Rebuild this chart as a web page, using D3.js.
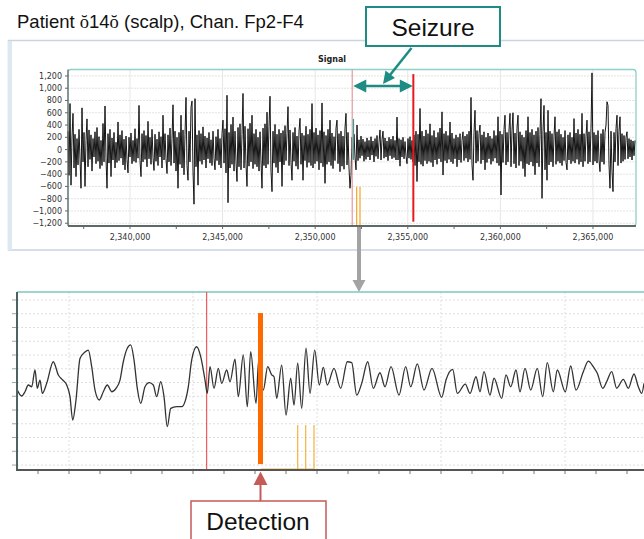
<!DOCTYPE html>
<html><head><meta charset="utf-8">
<script src="https://cdn.jsdelivr.net/npm/d3@7"></script>
<style>html,body{margin:0;padding:0;background:#fff;}svg{display:block;}</style>
</head><body>
<svg id="c" width="644" height="539"></svg>
<script>
// ---- Overview trace (Fp2-F4), one value per sample step ----
const traceStart = 2336652;
const traceStep = 54;
const traceValues = [
 300,-420,750,-580,200,590,-300,250,-440,180,-250,330,-150,-630,680,-200,280,-600,150,500,
 -280,320,-160,240,-350,180,-120,290,-230,360,-190,210,-310,150,-260,425,-200,710,-150,-630,
 260,-220,330,-440,190,-170,280,-300,120,-210,450,-180,240,-140,310,-250,170,-330,220,-160,
 -380,200,-120,270,-230,150,-190,340,-210,180,-140,720,-180,-440,260,-200,310,-160,230,-280,
 460,-150,200,-240,330,-130,-340,250,-190,170,-260,290,-120,210,-300,560,-170,260,-150,-390,
 240,-200,350,-260,180,730,-220,300,-350,200,-630,280,-240,560,-300,320,-410,250,850,-260,
 -500,300,-200,690,790,-350,-890,830,-280,240,-580,310,-190,260,-240,370,-170,220,-300,190,
 -150,280,-220,160,-260,300,-140,-330,210,-180,330,-250,180,-300,260,480,-220,340,-380,885,
 -865,280,-300,410,-240,530,-350,300,-200,-520,360,-280,420,-330,250,915,-300,380,-250,-600,
 340,-270,430,-200,560,-310,260,-240,330,-280,200,-350,290,-200,-630,350,-260,420,-300,610,
 -240,380,870,-350,-685,300,-220,410,-290,250,-380,330,-200,270,-600,310,-250,390,-180,260,
 700,-260,320,-210,-500,280,-190,360,-270,220,-320,300,510,-240,270,-500,230,-180,380,-290,
 250,-210,330,-260,750,-300,280,-230,350,-190,240,-330,310,-220,760,-280,290,-550,230,-240,
 330,-200,480,-260,270,-310,210,-180,350,480,-230,260,-360,300,-270,220,-320,350,590,-250,
 280,-300,-630,-420,200,-150,250,-120,-330,400,-180,160,-140,220,-100,170,-190,130,-160,190,
 -120,150,-170,210,-90,140,-200,180,-110,230,-150,120,320,-170,160,300,-140,190,-120,140,
 -180,200,-100,170,-150,220,-130,150,-170,530,-170,180,-270,160,-120,200,-150,130,-110,-230,
 180,-140,210,-160,150,-200,240,-260,300,-520,250,-200,670,-240,300,-270,220,-180,320,-230,
 260,-190,420,-210,230,-280,310,-170,200,-240,280,-150,350,-200,615,-415,260,-180,300,-220,
 230,-160,450,-200,270,-230,180,-150,240,-280,200,-170,260,-210,150,290,-180,220,-140,250,
 -200,300,-160,850,-250,-500,280,640,-220,310,-190,260,400,-230,240,-170,290,-330,200,-210,
 270,-150,220,-240,180,-190,310,-140,230,-220,535,-260,300,-740,250,-210,330,560,-250,280,
 -200,320,590,-280,310,600,-230,270,-300,350,560,-260,290,-190,240,-310,200,-440,310,-230,
 535,-250,280,-200,330,-270,240,-410,300,-220,360,-280,250,830,-795,300,720,-330,280,-500,
 640,-250,300,-200,260,-280,220,535,-240,290,-190,330,-220,250,-260,200,-180,310,-210,-330,
 240,-170,280,-230,200,-190,505,-220,270,-160,330,-240,250,-200,590,-280,260,-190,220,480,
 -230,290,-200,350,1250,-250,280,-190,240,-220,310,-170,-360,260,-200,330,-240,280,400,780,
 720,-250,-630,300,-350,-685,280,-200,340,560,-260,300,535,-220,260,-190,230,-160,200,290,
 -150,180,-120,160,-170,140,-100,150
];
// short highlighted stretch at onset
const highlight = { t: 2352060, from: 500, to: -170 };

// overview axes
const overviewXTicks = [2340000, 2345000, 2350000, 2355000, 2360000, 2365000];
const overviewXMinor = [2337500, 2340000, 2342500, 2345000, 2347500, 2350000, 2352500, 2355000, 2357500, 2360000, 2362500, 2365000];
const overviewYTicks = [-1200, -1000, -800, -600, -400, -200, 0, 200, 400, 600, 800, 1000, 1200];

// annotated events
const seizureStart = 2352000;
const seizureEnd = 2355300;
const overviewAlarms = [2352240, 2352420];
const zoomAnchor = 2352365;

// ---- Zoomed trace (sample offset, grid units) ----
const zoomT = [0.3,4.7,8,11.3,14.7,18,20.3,23,25.3,29.7,36.3,41.3,45.7,49.7,53,55.7,59,63,68,71.3,
 74.7,78,82.3,86.3,90.3,94.7,99,103,106.3,110.3,113.7,117,120.3,123.7,128,132.3,136.3,139.7,143.7,147,
 150.3,153.7,159.7,164.7,168,171.3,174.7,179.7,183.7,188,190.3,193,197,201.3,
 204.7,209.7,213,218,221.3,226.3,230.3,233.7,239,241.7,246.3,250.7,254.7,257,259.7,264.7,269,273.7,277,280.7,
 284.7,289,293,297.7,302.3,306.3,310.3,317,323.7,330.3,334.7,339.7,344.7,350.7,356.3,363,368,374,382,388.7,
 393.7,400.3,407,415,424.7,429,435.7,440.3,448.3,453,459,463,467,473,477,484.7,489,493.7,499,503,
 508,513.7,520.3,525.7,530.3,536.3,540.3,548.3,553.7,559,566.3,571.3,576.3,580.3,585.7,589.7,594.7,599.7,606.3,611.3,
 617,621.3,624.7,627];
const zoomV = [-0.55,-0.98,-0.67,-0.18,-0.31,0.91,-0.42,0.18,-0.79,-0.06,1.51,0.55,0.18,-0.18,-1.03,-2.73,-1.27,1.75,2.22,2.36,
 1.15,-0.55,-1.27,-0.67,-0.18,-0.67,-0.42,0.18,1.51,2.49,2.73,1.64,-0.42,-1.51,-0.31,-0.01,-0.18,-1.03,0.06,-1.03,
 -3.21,-1.88,-1.76,-1.76,-1.39,-0.31,1.64,2.6,1.88,0.18,-0.79,1.15,-0.42,1.03,
 -0.06,0.91,0.06,1.69,-1.03,2.0,-1.76,2.24,-1.51,1.64,-0.55,1.15,0.55,0.42,-1.15,1.27,-2.36,0.31,-1.64,1.4,
 -1.88,2.49,-0.79,2.36,-0.18,1.1,-0.18,1.03,-0.42,1.51,1.44,-0.91,-0.06,1.51,-0.42,0.71,-0.31,1.15,-0.91,1.15,
 -0.31,1.35,-0.55,1.03,-1.08,0.18,0.96,-0.79,-0.11,-0.79,0.42,-0.67,0.79,-0.91,0.31,-1.15,0.55,-0.31,0.91,-0.67,
 1.03,-0.55,1.03,-1.03,1.44,-0.67,0.91,-0.67,1.2,-0.55,0.79,1.56,1.15,0.67,-0.42,0.06,0.79,-0.42,0.23,-0.42,
 0.62,-0.31,-0.79,-0.06];
const zoomOnset = 189.7;
const detection = { t: 243.5, top: 5.05, bottom: -5.93 };
const zoomAlarms = [280.7, 288.7, 297];
const alarmBase = -6.29, alarmTop = -3.09;
const zoomTickStep = 31, zoomGridStep = 124;
const zoomGridLevels = [-6,-5,-4,-3,-2,-1,0,1,2,3,4,5,6];

const svg = d3.select('#c');
const TEAL = '#1e8c82';

// ---------- title ----------
const title = svg.append('text').attr('x', 17).attr('y', 28)
  .style('font-family', 'Liberation Sans, Arial, sans-serif').style('font-size', '18.5px').attr('fill', '#111');
title.append('tspan').text('Patient ');
title.append('tspan').text('ŏ').style('font-family', 'Liberation Serif, serif');
title.append('tspan').text('14');
title.append('tspan').text('ŏ').style('font-family', 'Liberation Serif, serif');
title.append('tspan').text(' (scalp), Chan. Fp2-F4');

// ---------- overview panel ----------
svg.append('rect').attr('x', 8.5).attr('y', 40.5).attr('width', 650).attr('height', 209.5)
  .attr('fill', '#fff').attr('stroke', '#c9d5e2').attr('stroke-width', 1.5);
svg.append('rect').attr('x', 8).attr('y', 41).attr('width', 4).attr('height', 209).attr('fill', '#dce8f2');

const x = d3.scaleLinear().domain([traceStart, traceStart + traceStep * traceValues.length]).range([68, 636]);
const y = d3.scaleLinear().domain([-1245, 1305]).range([226, 69.5]);

svg.append('text').attr('x', 332).attr('y', 62).attr('text-anchor', 'middle')
  .style('font-family', 'DejaVu Sans, Verdana, sans-serif').style('font-size', '8px').style('font-weight', 'bold')
  .attr('fill', '#222').text('Signal');

const gTop = svg.append('g');
// grid
gTop.selectAll('.hg').data(overviewYTicks).join('line')
  .attr('x1', 68).attr('x2', 636).attr('y1', d => y(d)).attr('y2', d => y(d))
  .attr('stroke', '#e3e3e3').attr('stroke-dasharray', '2,1');
gTop.selectAll('.vg').data(overviewXTicks).join('line')
  .attr('x1', d => x(d)).attr('x2', d => x(d)).attr('y1', 69.5).attr('y2', 226)
  .attr('stroke', '#e6e6e6');
// plot frame
gTop.append('rect').attr('x', 68).attr('y', 69.5).attr('width', 568).attr('height', 156.5).attr('rx', 3)
  .attr('fill', 'none').attr('stroke', '#8fd0c7').attr('stroke-width', 1.3);

// trace
const line = d3.line().x((d, i) => x(traceStart + i * traceStep)).y(d => y(d));
gTop.append('path').datum(traceValues).attr('d', line)
  .attr('fill', 'none').attr('stroke', '#151515').attr('stroke-width', 1).attr('stroke-linejoin', 'miter');
gTop.append('line').attr('x1', x(highlight.t)).attr('x2', x(highlight.t))
  .attr('y1', y(highlight.from)).attr('y2', y(highlight.to)).attr('stroke', '#2aa79b').attr('stroke-width', 1.5);

// event markers
gTop.append('line').attr('x1', x(seizureStart)).attr('x2', x(seizureStart)).attr('y1', 69.5).attr('y2', 226)
  .attr('stroke', '#e59a9a').attr('stroke-width', 1.2);
gTop.append('line').attr('x1', x(seizureEnd)).attr('x2', x(seizureEnd)).attr('y1', y(1230)).attr('y2', y(-1175))
  .attr('stroke', '#e8191c').attr('stroke-width', 2);
gTop.selectAll('.al').data(overviewAlarms).join('line')
  .attr('x1', d => x(d)).attr('x2', d => x(d)).attr('y1', y(-605)).attr('y2', 226)
  .attr('stroke', '#f2a52b').attr('stroke-width', 1.2);

// axes
const ax = gTop.append('g').attr('transform', 'translate(0,226)');
ax.append('line').attr('x1', 68).attr('x2', 636).attr('stroke', '#444').attr('stroke-width', 1.5);
ax.selectAll('.mt').data(overviewXMinor).join('line')
  .attr('x1', d => x(d)).attr('x2', d => x(d)).attr('y1', 0).attr('y2', 3).attr('stroke', '#666');
ax.selectAll('.tl').data(overviewXTicks).join('text')
  .attr('x', d => x(d)).attr('y', 14).attr('text-anchor', 'middle')
  .style('font-family', 'DejaVu Sans, Verdana, sans-serif').style('font-size', '8px').attr('fill', '#333')
  .text(d => d3.format(',')(d));
const ay = gTop.append('g').attr('transform', 'translate(68,0)');
ay.append('line').attr('y1', 69.5).attr('y2', 226).attr('stroke', '#666').attr('stroke-width', 1.2);
ay.selectAll('.yt').data(overviewYTicks).join('line')
  .attr('x1', -3).attr('x2', 0).attr('y1', d => y(d)).attr('y2', d => y(d)).attr('stroke', '#666');
ay.selectAll('.yl').data(overviewYTicks).join('text')
  .attr('x', -6).attr('y', d => y(d) + 3).attr('text-anchor', 'end')
  .style('font-family', 'DejaVu Sans, Verdana, sans-serif').style('font-size', '8px').attr('fill', '#333')
  .text(d => d3.format(',')(d));

// ---------- seizure callout ----------
const sx0 = x(seizureStart) + 1, sx1 = x(seizureEnd) - 0.5, sy = 86;
svg.append('line').attr('x1', sx0 + 10).attr('x2', sx1 - 10).attr('y1', sy).attr('y2', sy)
  .attr('stroke', TEAL).attr('stroke-width', 2.5);
svg.append('path').attr('d', `M${sx0},${sy} L${sx0 + 13},${sy - 6.5} L${sx0 + 13},${sy + 6.5} Z`).attr('fill', TEAL);
svg.append('path').attr('d', `M${sx1},${sy} L${sx1 - 13},${sy - 6.5} L${sx1 - 13},${sy + 6.5} Z`).attr('fill', TEAL);
svg.append('line').attr('x1', 411.5).attr('y1', 48).attr('x2', 390).attr('y2', 75)
  .attr('stroke', TEAL).attr('stroke-width', 2.5);
svg.append('path').attr('d', 'M383,84 L385.5,70.5 L395,78 Z').attr('fill', TEAL);
svg.append('rect').attr('x', 366).attr('y', 7).attr('width', 134).attr('height', 39)
  .attr('fill', '#fff').attr('stroke', TEAL).attr('stroke-width', 2);
svg.append('text').attr('x', 433).attr('y', 35.5).attr('text-anchor', 'middle')
  .style('font-family', 'Liberation Sans, Arial, sans-serif').style('font-size', '24.5px').attr('fill', '#111')
  .text('Seizure');

// zoom connector arrow
const gx = x(zoomAnchor);
svg.append('line').attr('x1', gx).attr('x2', gx).attr('y1', 227).attr('y2', 281)
  .attr('stroke', '#a3a3a3').attr('stroke-width', 4);
svg.append('path').attr('d', `M${gx - 6.5},280 L${gx + 6.5},280 L${gx},292 Z`).attr('fill', '#a3a3a3');

// ---------- zoomed panel ----------
const xb = d3.scaleLinear().domain([0, 627]).range([17, 644]);
const yb = d3.scaleLinear().domain([-6.36, 6.58]).range([470, 292]);
const gB = svg.append('g');
gB.selectAll('.bh').data(zoomGridLevels).join('line')
  .attr('x1', 17).attr('x2', 644).attr('y1', d => yb(d)).attr('y2', d => yb(d))
  .attr('stroke', '#dedede').attr('stroke-dasharray', '2,2');
gB.selectAll('.bv').data(d3.range(52, 627, zoomGridStep)).join('line')
  .attr('x1', d => xb(d)).attr('x2', d => xb(d)).attr('y1', 292).attr('y2', 470)
  .attr('stroke', '#e0e0e0').attr('stroke-dasharray', '2,2');
gB.append('line').attr('x1', 17).attr('x2', 644).attr('y1', 292).attr('y2', 292)
  .attr('stroke', '#7cc9c0').attr('stroke-width', 1.5);

// onset marker
gB.append('line').attr('x1', xb(zoomOnset)).attr('x2', xb(zoomOnset)).attr('y1', 292).attr('y2', 470)
  .attr('stroke', '#ec3b3b').attr('stroke-width', 1);

// zoomed trace
const zline = d3.line().x((d, i) => xb(zoomT[i])).y(d => yb(d)).curve(d3.curveMonotoneX);
gB.append('path').datum(zoomV).attr('d', zline)
  .attr('fill', 'none').attr('stroke', '#333').attr('stroke-width', 1.3);

// alarm raster
gB.append('line').attr('x1', xb(detection.t)).attr('x2', xb(zoomAlarms[zoomAlarms.length - 1]))
  .attr('y1', yb(alarmBase)).attr('y2', yb(alarmBase)).attr('stroke', '#f5b43c').attr('stroke-width', 1.2);
gB.selectAll('.za').data(zoomAlarms).join('line')
  .attr('x1', d => xb(d)).attr('x2', d => xb(d)).attr('y1', yb(alarmTop)).attr('y2', yb(alarmBase))
  .attr('stroke', '#f5b43c').attr('stroke-width', 1.2);
gB.append('rect').attr('x', xb(detection.t) - 2.5).attr('y', yb(detection.top))
  .attr('width', 5).attr('height', yb(detection.bottom) - yb(detection.top)).attr('fill', '#ff6a00');

// axes
gB.append('line').attr('x1', 17).attr('x2', 17).attr('y1', 292).attr('y2', 471)
  .attr('stroke', '#4d6363').attr('stroke-width', 2);
gB.selectAll('.byt').data(zoomGridLevels).join('line')
  .attr('x1', 12).attr('x2', 16).attr('y1', d => yb(d)).attr('y2', d => yb(d)).attr('stroke', '#9aa');
gB.append('line').attr('x1', 16).attr('x2', 644).attr('y1', 470).attr('y2', 470)
  .attr('stroke', '#555').attr('stroke-width', 2);
gB.selectAll('.bxt').data(d3.range(21, 627, zoomTickStep)).join('line')
  .attr('x1', d => xb(d)).attr('x2', d => xb(d)).attr('y1', 471).attr('y2', 474).attr('stroke', '#777');

// ---------- detection callout ----------
const RED = '#c45b57';
const dx = xb(detection.t);
svg.append('path').attr('d', `M${dx},471.5 L${dx + 7},485 L${dx - 7},485 Z`).attr('fill', RED);
svg.append('line').attr('x1', dx).attr('x2', dx).attr('y1', 484).attr('y2', 501)
  .attr('stroke', RED).attr('stroke-width', 2);
svg.append('rect').attr('x', 191).attr('y', 501).attr('width', 135).attr('height', 50)
  .attr('fill', '#fff').attr('stroke', RED).attr('stroke-width', 1.5);
svg.append('text').attr('x', 258).attr('y', 529.5).attr('text-anchor', 'middle')
  .style('font-family', 'Liberation Sans, Arial, sans-serif').style('font-size', '24.5px').attr('fill', '#111')
  .text('Detection');
</script>
</body></html>
